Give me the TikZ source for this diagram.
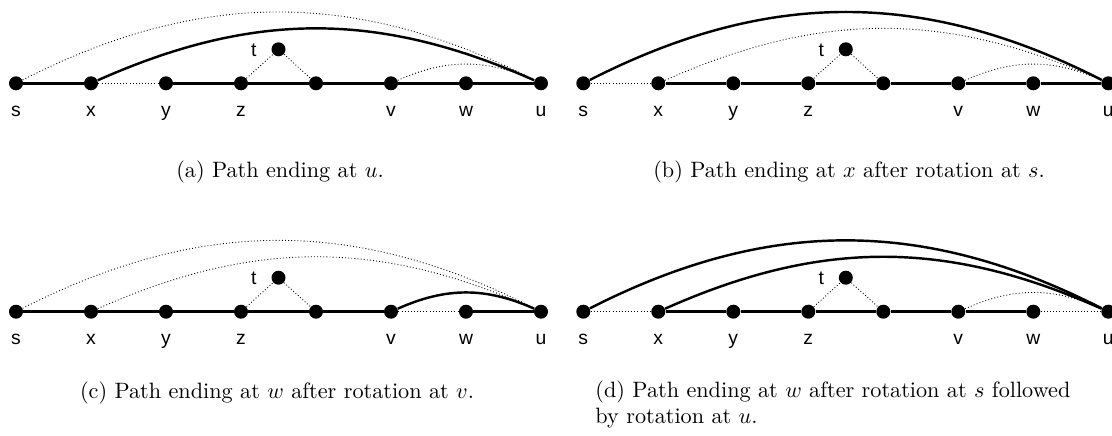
\documentclass[tikz,border=0pt]{standalone}
\usepackage{fontspec}
\newfontfamily\lblfont{Liberation Sans}

% the eight vertices of one path, named with a prefix
\newcommand{\pathvertices}[1]{%
  \foreach \i/\n in {0/s,1/x,2/y,3/z,5/v,6/w,7/u}
    \node[vtx, label={[lbl]below:\n}] (#1\n) at (75*\i,0) {};
  \node[vtx] (#1m) at (300,0) {};
  \node[vtx, label={[lbl, label distance=6.3pt]left:t}] (#1t) at (262.5,34) {};
  \draw[offpath] (#1z) -- (#1t) -- (#1m);
}

\begin{document}
\begin{tikzpicture}[x=0.45pt, y=0.45pt,
  vtx/.style={circle, fill, inner sep=0pt, minimum size=6.3pt},
  lbl/.style={font=\lblfont\fontsize{8.7}{10}\selectfont, inner sep=0pt,
    text height=6.2pt, text depth=0pt, label distance=5pt},
  onpath/.style={line width=1.1pt},
  offpath/.style={line width=0.4pt, densely dotted},
  captext/.style={anchor=base, inner sep=0pt}]
  \useasboundingbox (0,0) rectangle (1112,435);

  % (a)
  \begin{scope}[shift={(16,351.7)}]
    \pathvertices{a}
    \draw[onpath] (as) -- (ax) (ay) -- (az) -- (am) -- (av) -- (aw) -- (au);
    \draw[offpath] (ax) -- (ay);
    \draw[offpath] (as) to[bend left=27] (au);
    \draw[onpath] (ax) to[bend left=24] (au);
    \draw[offpath] (av) to[bend left=24] (au);
  \end{scope}
  \node[captext] (capa) at (280,258) {(a) Path ending at $u$.};

  % (b)
  \begin{scope}[shift={(583.3,351.7)}]
    \pathvertices{b}
    \draw[onpath] (bx) -- (by) -- (bz) -- (bm) -- (bv) -- (bw) -- (bu);
    \draw[offpath] (bs) -- (bx);
    \draw[onpath] (bs) to[bend left=27] (bu);
    \draw[offpath] (bx) to[bend left=24] (bu);
    \draw[offpath] (bv) to[bend left=24] (bu);
  \end{scope}
  \node[captext] (capb) at (849,258) {(b) Path ending at $x$ after rotation at $s$.};

  % (c)
  \begin{scope}[shift={(16,123.3)}]
    \pathvertices{c}
    \draw[onpath] (cs) -- (cx) -- (cy) -- (cz) -- (cm) -- (cv) (cw) -- (cu);
    \draw[offpath] (cv) -- (cw);
    \draw[offpath] (cs) to[bend left=27] (cu);
    \draw[offpath] (cx) to[bend left=24] (cu);
    \draw[onpath] (cv) to[bend left=24] (cu);
  \end{scope}
  \node[captext] (capc) at (277,37) {(c) Path ending at $w$ after rotation at $v$.};

  % (d)
  \begin{scope}[shift={(583.3,123.3)}]
    \pathvertices{d}
    \draw[onpath] (dx) -- (dy) -- (dz) -- (dm) -- (dv) -- (dw);
    \draw[offpath] (ds) -- (dx) (dw) -- (du);
    \draw[onpath] (ds) to[bend left=27] (du);
    \draw[onpath] (dx) to[bend left=24] (du);
    \draw[offpath] (dv) to[bend left=24] (du);
  \end{scope}
  \node[anchor=north west, inner sep=0pt, align=left] (capd) at (595,55)
    {(d) Path ending at $w$ after rotation at $s$ followed\\by rotation at $u$.};
\end{tikzpicture}
\end{document}
